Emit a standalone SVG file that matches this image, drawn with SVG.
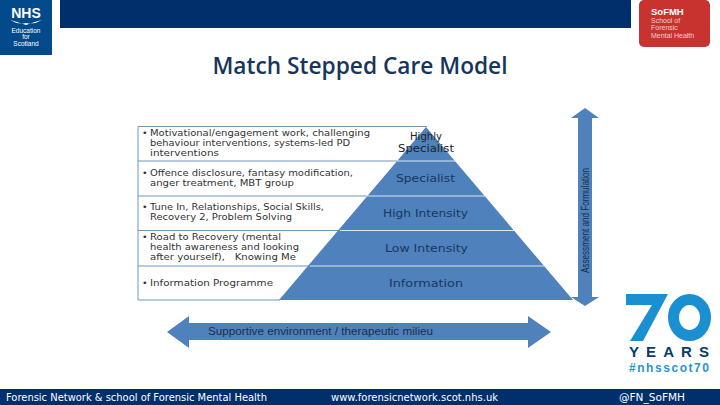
<svg xmlns="http://www.w3.org/2000/svg" width="720" height="405" viewBox="0 0 720 405">
<style>
text{font-family:"Liberation Sans",Arial,sans-serif}
.l text{font-family:"DejaVu Sans",sans-serif;font-size:9.500px;fill:#333}
.p{font-family:"DejaVu Sans",sans-serif;font-size:11px;fill:#17375e}
.w{fill:#fff}
.d{stroke:#dce6f1;stroke-width:1;fill:none}
.b{stroke:#6f97bd;stroke-width:1;fill:none}
.f{fill:#4f81bd}
.ft{font-family:"DejaVu Sans",sans-serif;font-size:10.500px;fill:#fff}
</style>
<rect width="720" height="405" fill="#fff"/>
<g id="header-bar"><rect x="60" y="0" width="571" height="28" fill="#002f6c"/></g>
<g id="nhs-logo">
<rect width="52" height="55" fill="#034a8c"/>
<text x="26" y="18" class="w" font-size="14" font-weight="700" text-anchor="middle">NHS</text>
<path d="M10 20Q18 25 26 23Q34 25 42 20Q34 22 26 25Q18 22 10 20Z" fill="#fff"/>
<text class="w" font-size="6.500" text-anchor="middle"><tspan x="26" y="33">Education</tspan><tspan x="26" y="39">for</tspan><tspan x="26" y="46">Scotland</tspan></text>
</g>
<g id="sofmh-logo">
<rect x="639" y="0" width="71" height="47" rx="5" fill="#c8322f"/>
<text x="651" y="15" fill="#fff" font-size="9.500" font-weight="700">SoFMH</text>
<text fill="#f3d0cf" font-size="7"><tspan x="651" y="23">School of</tspan><tspan x="651" y="30">Forensic</tspan><tspan x="651" y="38">Mental Health</tspan></text>
</g>
<text id="title" x="360" y="74" font-size="22.700" fill="#17365d" text-anchor="middle" style="font-family:'Open Sans',sans-serif;font-weight:600">Match Stepped Care Model</text>
<g id="table">
<path class="b" d="M427 126.500H138V300H280M138 161H397M138 196H367M138 230.500H340M138 266H310"/>
</g>
<g id="levels">
<path class="f" d="M426 127L573 300H279Z"/>
<path class="d" d="M397 161H455M367 196H486M340 230.500H515M310 266H544"/>
</g>
<g id="level-text">
<text class="p" style="fill:#222" x="410" y="140" textLength="32" lengthAdjust="spacingAndGlyphs">Highly</text>
<text class="p" style="fill:#222" x="398" y="152" textLength="56" lengthAdjust="spacingAndGlyphs">Specialist</text>
<text class="p" x="396" y="182" textLength="59" lengthAdjust="spacingAndGlyphs">Specialist</text>
<text class="p" x="383" y="217" textLength="85" lengthAdjust="spacingAndGlyphs">High Intensity</text>
<text class="p" x="385" y="252" textLength="83" lengthAdjust="spacingAndGlyphs">Low Intensity</text>
<text class="p" x="389" y="287" textLength="74" lengthAdjust="spacingAndGlyphs">Information</text>
</g>
<g id="table-text" class="l">
<text x="142" y="136">•</text><text x="150" y="136" textLength="220" lengthAdjust="spacingAndGlyphs">Motivational/engagement work, challenging</text>
<text x="150" y="146" textLength="200" lengthAdjust="spacingAndGlyphs">behaviour interventions, systems-led PD</text>
<text x="150" y="156" textLength="69" lengthAdjust="spacingAndGlyphs">interventions</text>
<text x="142" y="176">•</text><text x="150" y="176" textLength="203" lengthAdjust="spacingAndGlyphs">Offence disclosure, fantasy modification,</text>
<text x="150" y="186" textLength="144" lengthAdjust="spacingAndGlyphs">anger treatment, MBT group</text>
<text x="142" y="210">•</text><text x="150" y="210" textLength="174" lengthAdjust="spacingAndGlyphs">Tune In, Relationships, Social Skills,</text>
<text x="150" y="220" textLength="142" lengthAdjust="spacingAndGlyphs">Recovery 2, Problem Solving</text>
<text x="142" y="240">•</text><text x="150" y="240" textLength="131" lengthAdjust="spacingAndGlyphs">Road to Recovery (mental</text>
<text x="150" y="250" textLength="149" lengthAdjust="spacingAndGlyphs">health awareness and looking</text>
<text x="150" y="260" xml:space="preserve" textLength="146" lengthAdjust="spacingAndGlyphs">after yourself),   Knowing Me</text>
<text x="142" y="286">•</text><text x="150" y="286" textLength="123" lengthAdjust="spacingAndGlyphs">Information Programme</text>
</g>
<g id="connectors">
<path class="f" d="M585 108L599 118H592V297H599L585 306L571 297H578V118H571Z"/>
<path class="f" d="M167 332L189 316V323H528V316L551 332L528 348V340H189V348Z"/>
</g>
<text id="assess" transform="translate(589 273) rotate(-90)" font-size="11" fill="#1b2f4a" textLength="105" lengthAdjust="spacingAndGlyphs">Assessment and Formulation</text>
<text id="support" x="208" y="335" font-size="10" fill="#1b2f4a" textLength="225" lengthAdjust="spacingAndGlyphs">Supportive environment / therapeutic milieu</text>
<g id="seventy-logo">
<path d="M626 294H668L643 341H630L652 305H626Z" fill="#1a8fd1"/>
<ellipse cx="689.500" cy="317.500" rx="16" ry="18" fill="none" stroke="#1a8fd1" stroke-width="11"/>
<text x="629" y="357" font-size="15" font-weight="700" fill="#0b3a6e" textLength="80">YEARS</text>
<text x="629" y="372" font-size="12" font-weight="700" fill="#2a93cf" textLength="80">#nhsscot70</text>
</g>
<g id="footer">
<rect y="389" width="720" height="16" fill="#002f6c"/>
<text class="ft" x="6" y="401" textLength="261" lengthAdjust="spacingAndGlyphs">Forensic Network &amp; school of Forensic Mental Health</text>
<text class="ft" x="331" y="401" textLength="167" lengthAdjust="spacingAndGlyphs">www.forensicnetwork.scot.nhs.uk</text>
<text class="ft" x="619" y="401" textLength="66" lengthAdjust="spacingAndGlyphs">@FN_SoFMH</text>
</g>
</svg>
